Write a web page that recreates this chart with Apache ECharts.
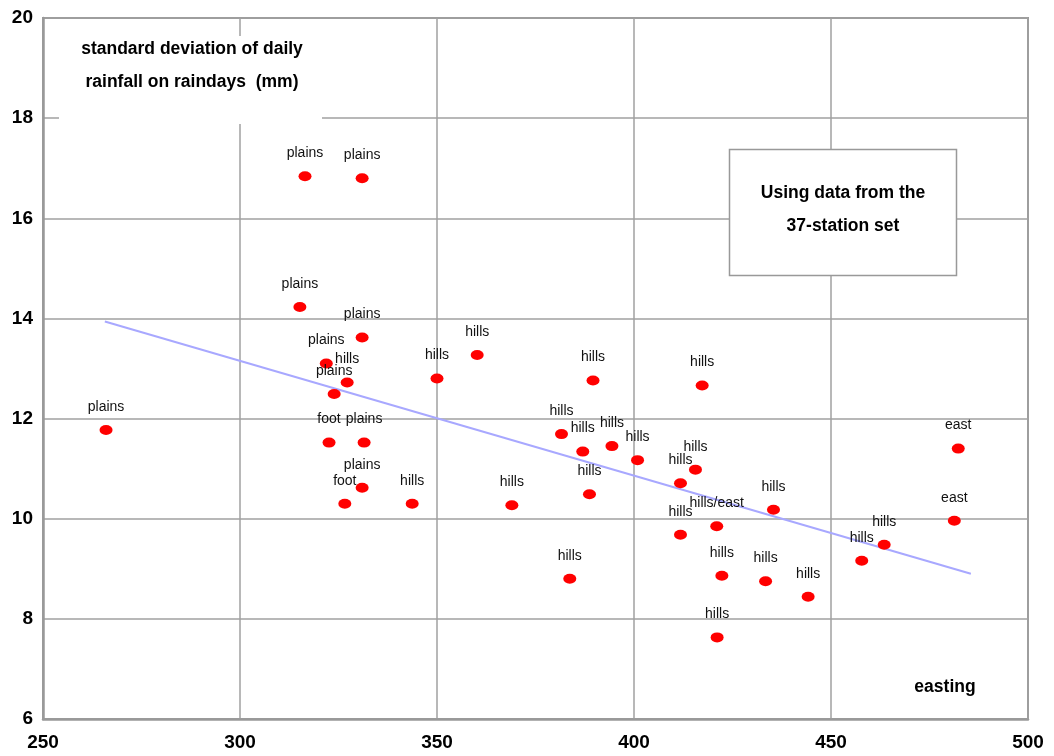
<!DOCTYPE html>
<html>
<head>
<meta charset="utf-8">
<script src="https://cdn.jsdelivr.net/npm/echarts@6/dist/echarts.min.js"></script>
<style>
html,body{margin:0;padding:0;background:#fff;}
#chart{width:1054px;height:756px;}
</style>
</head>
<body>
<div id="chart"></div>
<script>
// Station data: easting (km), SD of daily rainfall on raindays (mm), region label
var eastings = [266.0, 316.5, 331.0, 315.2, 331.0, 321.9, 327.2, 323.9, 322.6, 331.5,
  331.0, 326.6, 343.7, 350.0, 360.2, 369.0, 389.6, 417.3, 381.6, 387.0,
  394.4, 400.9, 415.6, 411.8, 388.7, 383.7, 411.8, 421.0, 422.3, 433.4,
  421.1, 435.4, 444.2, 457.8, 463.5, 482.3, 481.3];
var sdValues = [11.77, 16.84, 16.80, 14.23, 13.62, 13.10, 12.72, 12.49, 11.52, 11.52,
  10.62, 10.30, 10.30, 12.80, 13.27, 10.27, 12.76, 12.66, 11.69, 11.34,
  11.45, 11.17, 10.98, 10.71, 10.49, 8.80, 9.68, 9.85, 8.86, 8.75,
  7.63, 10.18, 8.44, 9.16, 9.48, 11.40, 9.96];
var regions = ['plains', 'plains', 'plains', 'plains', 'plains', 'plains', 'hills', 'plains', 'foot', 'plains',
  'plains', 'foot', 'hills', 'hills', 'hills', 'hills', 'hills', 'hills', 'hills', 'hills',
  'hills', 'hills', 'hills', 'hills', 'hills', 'hills', 'hills', 'hills/east', 'hills', 'hills',
  'hills', 'hills', 'hills', 'hills', 'hills', 'east', 'east'];
// Trend line end points
var trendX = [265.7, 485.5];
var trendY = [13.94, 8.90];
var xTicks = [250, 300, 350, 400, 450, 500];
var yTicks = [6, 8, 10, 12, 14, 16, 18, 20];

var pts = eastings.map(function (e, i) { return [e, sdValues[i], regions[i]]; });
var trend = trendX.map(function (x, i) { return [x, trendY[i]]; });

var chart = echarts.init(document.getElementById('chart'), null, {renderer: 'canvas'});
var tickFont = {fontFamily: 'Liberation Sans, Arial, sans-serif', fontWeight: 'bold', fontSize: 19, color: '#000'};
var boxFont = 'bold 17.5px Liberation Sans, Arial, sans-serif';
chart.setOption({
  animation: false,
  backgroundColor: '#fff',
  grid: {left: 43, right: 26, top: 18, bottom: 37, show: true, borderColor: '#999', borderWidth: 2, backgroundColor: 'transparent'},
  xAxis: {
    type: 'value', min: xTicks[0], max: xTicks[xTicks.length - 1], interval: 50,
    axisLine: {show: true, lineStyle: {color: '#999', width: 2.5}},
    axisTick: {show: false},
    splitLine: {show: true, lineStyle: {color: '#a0a0a0', width: 1.5}},
    axisLabel: Object.assign({margin: 14}, tickFont)
  },
  yAxis: {
    type: 'value', min: yTicks[0], max: yTicks[yTicks.length - 1], interval: 2,
    axisLine: {show: true, lineStyle: {color: '#999', width: 2.5}},
    axisTick: {show: false},
    splitLine: {show: true, lineStyle: {color: '#a0a0a0', width: 1.5}},
    axisLabel: Object.assign({margin: 10}, tickFont)
  },
  series: [
    {
      type: 'line', data: trend, showSymbol: false, symbol: 'none', z: 2,
      lineStyle: {color: '#a8a8ff', width: 2}, silent: true
    },
    {
      type: 'scatter', data: pts, z: 3,
      symbol: 'circle', symbolSize: [13, 10],
      itemStyle: {color: '#ff0000', opacity: 1},
      label: {
        show: true, position: 'top', distance: 11, opacity: 1,
        formatter: function (p) { return p.data[2]; },
        fontFamily: 'Liberation Sans, Arial, sans-serif', fontSize: 14, color: '#111'
      }
    }
  ],
  graphic: [
    {type: 'rect', z: 100, shape: {x: 59, y: 36, width: 263, height: 88}, style: {fill: '#fff'}},
    {type: 'text', z: 101, x: 192, y: 49, style: {text: 'standard deviation of daily', align: 'center', verticalAlign: 'middle', font: boxFont, fill: '#000'}},
    {type: 'text', z: 101, x: 192, y: 82, style: {text: 'rainfall on raindays  (mm)', align: 'center', verticalAlign: 'middle', font: boxFont, fill: '#000'}},
    {type: 'rect', z: 100, shape: {x: 729.5, y: 149.5, width: 227, height: 126}, style: {fill: '#fff', stroke: '#999', lineWidth: 1.5}},
    {type: 'text', z: 101, x: 843, y: 193, style: {text: 'Using data from the', align: 'center', verticalAlign: 'middle', font: boxFont, fill: '#000'}},
    {type: 'text', z: 101, x: 843, y: 226, style: {text: '37-station set', align: 'center', verticalAlign: 'middle', font: boxFont, fill: '#000'}},
    {type: 'text', z: 101, x: 945, y: 687, style: {text: 'easting', align: 'center', verticalAlign: 'middle', font: boxFont, fill: '#000'}}
  ]
});
</script>
</body>
</html>
